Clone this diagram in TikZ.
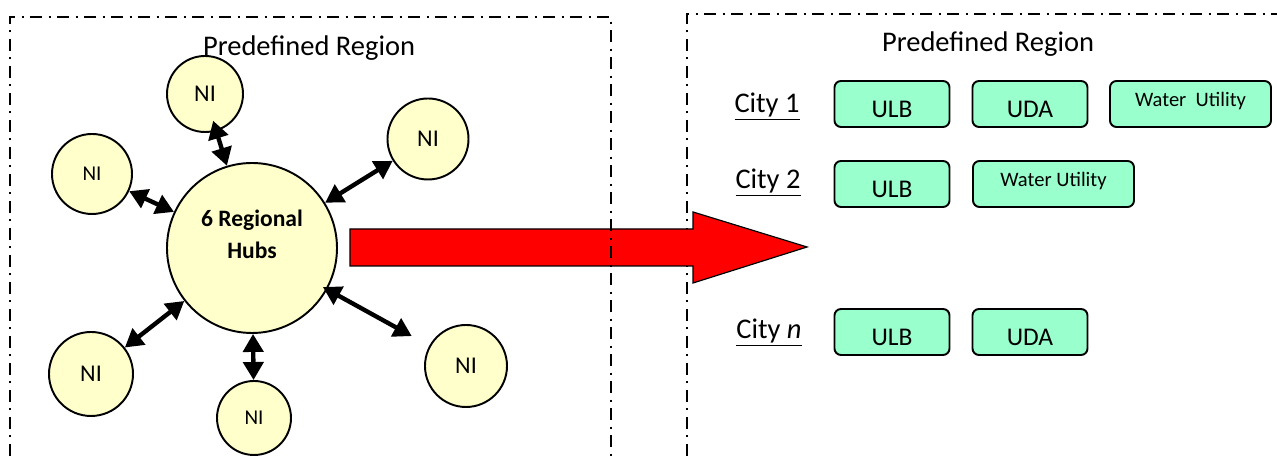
\documentclass[tikz,border=0pt]{standalone}
\usepackage{fontspec}
\setmainfont{Carlito}
\usepackage{tikz}
\usetikzlibrary{arrows.meta,calc}
\definecolor{hubyellow}{RGB}{255,255,204}
\definecolor{orgmint}{RGB}{153,255,204}

\begin{document}
\begin{tikzpicture}[
  region/.style={black, line width=0.8pt, dash pattern=on 0.24cm off 0.13cm on 0.04cm off 0.13cm},
  hubnode/.style={circle, draw=black, line width=1.1pt, fill=hubyellow, inner sep=0pt},
  ni/.style={hubnode, font=\fontsize{13.7}{15}\selectfont},
  link/.style={black, line width=2.5pt, {Triangle[length=0.36cm,width=0.40cm]}-{Triangle[length=0.36cm,width=0.40cm]}},
  org/.style={draw=black, line width=1.1pt, fill=orgmint, rounded corners=0.13cm, minimum height=0.92cm, inner sep=0pt},
  orgbig/.style={org, minimum width=2.30cm, font=\fontsize{14.5}{16}\selectfont, text height=0.6cm, text depth=0.04cm},
  orgsmall/.style={org, minimum width=3.22cm, font=\fontsize{11.7}{13}\selectfont, text height=0.3cm, text depth=0.2cm},
  city/.style={font=\fontsize{16.2}{18}\selectfont}
]
\useasboundingbox (0cm,0cm) rectangle (25.54cm,9.16cm);
\clip (0cm,0cm) rectangle (25.54cm,9.16cm);

% the two regions and the big arrow
\draw[region] (13.74cm,-0.5cm) -- (13.74cm,8.88cm) -- (26.2cm,8.88cm);
\draw[black, line width=0.7pt, fill=red] (7.00cm,4.58cm) -- (13.86cm,4.58cm) -- (13.86cm,4.92cm) -- (16.14cm,4.22cm) -- (13.86cm,3.50cm) -- (13.86cm,3.84cm) -- (7.00cm,3.84cm) -- cycle;
\draw[region] (0.20cm,-0.5cm) -- (0.20cm,8.82cm) -- (12.22cm,8.82cm) -- (12.22cm,-0.5cm);
\node[city] (titleL) at (6.18cm,8.20cm) {Predefined Region};
\node[city] (titleR) at (19.76cm,8.28cm) {Predefined Region};

% hub and its NIs
\node[hubnode, minimum size=3.40cm, label={[font=\bfseries\fontsize{13.4}{18.2}\selectfont, align=center, yshift=0.28cm]center:6 Regional\\Hubs}] (hub) at (5.04cm,4.20cm) {};
\node[ni, minimum size=1.52cm] (niT) at (4.10cm,7.28cm) {NI};
\node[ni, minimum size=1.60cm, font=\fontsize{12}{14}\selectfont] (niL) at (1.84cm,5.68cm) {NI};
\node[ni, minimum size=1.62cm] (niR) at (8.56cm,6.38cm) {NI};
\node[ni, minimum size=1.68cm] (niLL) at (1.82cm,1.68cm) {NI};
\node[ni, minimum size=1.48cm, font=\fontsize{12}{14}\selectfont] (niB) at (5.08cm,0.80cm) {NI};
\node[ni, minimum size=1.64cm] (niLR) at (9.32cm,1.84cm) {NI};
\draw[link, shorten <=-0.22cm] (niT) -- (hub);
\draw[link] (niL) -- (hub);
\draw[link] (niR) -- (hub);
\draw[link] (niLL) -- (hub);
\draw[link] (niB) -- (hub);
\draw[link, shorten <=0.4cm, shorten >=-0.1cm] (niLR) -- (hub);

% cities
\node[city] (city1) at (15.34cm,7.02cm) {\underline{City 1}};
\node[city] (city2) at (15.36cm,5.50cm) {\underline{City 2}};
\node[city] (cityn) at (15.38cm,2.50cm) {\underline{City \textit{n}}};
\node[orgbig] (ulb1) at (17.84cm,7.08cm) {ULB};
\node[orgbig] (uda1) at (20.60cm,7.08cm) {UDA};
\node[orgsmall] (wu1) at (23.81cm,7.08cm) {Water\ \ Utility};
\node[orgbig] (ulb2) at (17.84cm,5.48cm) {ULB};
\node[orgsmall] (wu2) at (21.07cm,5.48cm) {Water Utility};
\node[orgbig] (ulbn) at (17.84cm,2.52cm) {ULB};
\node[orgbig] (udan) at (20.60cm,2.52cm) {UDA};
\end{tikzpicture}
\end{document}
